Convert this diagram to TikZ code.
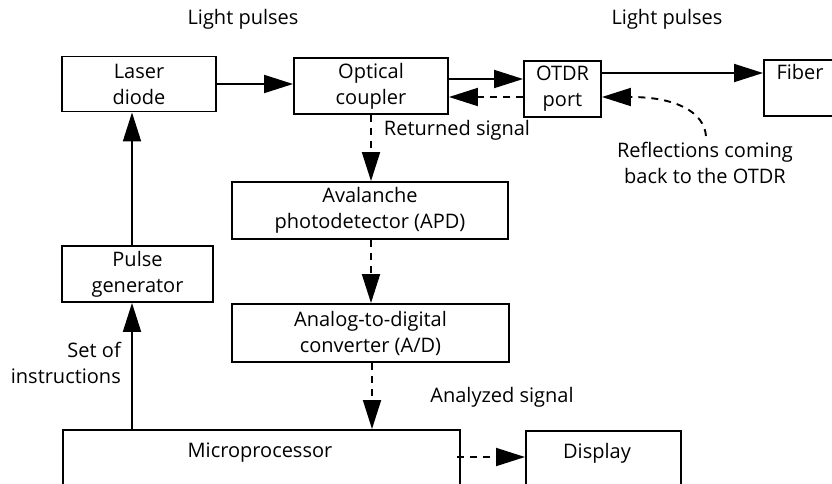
\documentclass[tikz,border=0pt]{standalone}
\usepackage{fontspec}
\setmainfont{Open Sans}
\usetikzlibrary{arrows.meta}
\begin{document}
\begin{tikzpicture}[x=1pt,y=-1pt,
  fs/.style={font=\fontsize{20}{26}\selectfont},
  box/.style={draw, line width=1.9pt, inner sep=0pt, align=center, fs},
  txt/.style={inner sep=0pt, align=center, fs},
  arr/.style={-{Triangle[length=29pt,width=18pt]}, line width=1.9pt},
  darr/.style={arr, dash pattern=on 7pt off 6pt},
]
\useasboundingbox (0,0) rectangle (832,483);
\clip (0,0) rectangle (832,483);
% boxes
\node[box, minimum width=154pt, minimum height=55pt] (laser) at (139,84) {Laser\\diode};
\node[box, minimum width=154pt, minimum height=56pt] (coupler) at (371,86) {Optical\\coupler};
\node[box, minimum width=77pt, minimum height=56pt] (otdr) at (562.5,89) {OTDR\\port};
\node[box, minimum width=140pt, minimum height=56pt, anchor=north west] (fiber) at (763,59) {};
\node[txt] (fibert) at (800,72) {Fiber};
\node[box, minimum width=276pt, minimum height=57pt] (apd) at (370,210.5) {Avalanche\\photodetector (APD)};
\node[box, minimum width=151pt, minimum height=56pt] (pulse) at (137.5,274) {Pulse\\generator};
\node[box, minimum width=277pt, minimum height=58pt] (ad) at (370.5,333) {Analog-to-digital\\converter (A/D)};
\node[box, minimum width=397pt, minimum height=80pt, anchor=north west] (micro) at (62,429) {};
\node[txt] (microt) at (260,453) {Microprocessor};
\node[box, minimum width=155pt, minimum height=80pt, anchor=north west] (display) at (525,430) {};
\node[txt] (displayt) at (597,453) {Display};
% labels
\node[txt] (lp1) at (243,19) {Light pulses};
\node[txt] (lp2) at (667,19) {Light pulses};
\node[txt] (ret) at (457,130) {Returned signal};
\node[txt] (refl) at (705,163) {Reflections coming\\back to the OTDR};
\node[txt, align=right, anchor=east] (set) at (121,363) {Set of\\instructions};
\node[txt] (ana) at (502,397) {Analyzed signal};
\coordinate (rs) at (706,136);
% connectors
\draw[arr] (laser.east) -- (laser.east -| coupler.west);
\draw[arr] (coupler.east |- 0,79) -- (otdr.west |- 0,79);
\draw[arr] (otdr.east |- 0,73) -- (fiber.west |- 0,73);
\draw[darr] (otdr.west |- 0,97) -- (coupler.east |- 0,97);
\draw[darr] (rs) .. controls (704,112) and (676,97) .. (otdr.east |- 0,97);
\draw[darr] (coupler.south -| 371,0) -- (apd.north -| 371,0);
\draw[darr] (apd.south -| 371,0) -- (ad.north -| 371,0);
\draw[darr] (ad.south -| 372,0) -- (micro.north -| 372,0);
\draw[darr] ([xshift=-4pt]micro.east |- 0,457) -- (display.west |- 0,457);
\draw[arr] (pulse.north -| 132,0) -- (laser.south -| 132,0);
\draw[arr] (micro.north -| 132,0) -- (pulse.south -| 132,0);
\end{tikzpicture}
\end{document}
